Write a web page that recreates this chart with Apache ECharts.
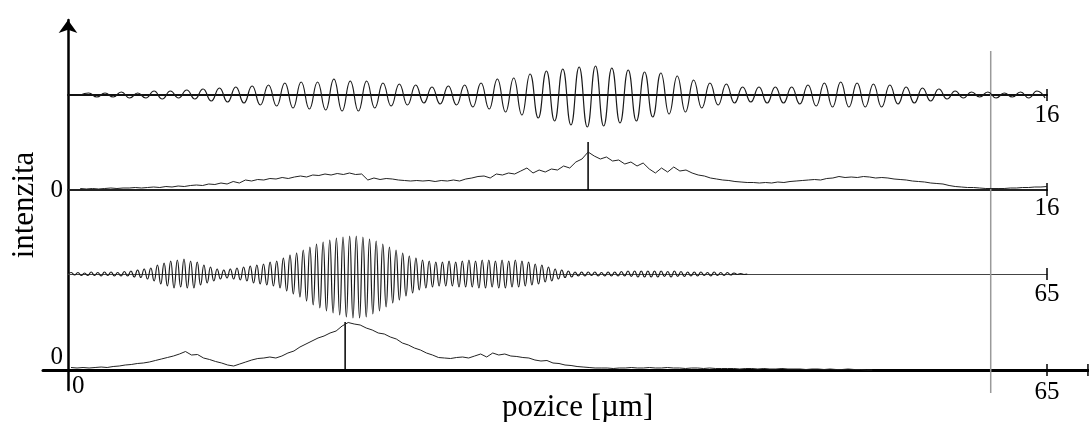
<!DOCTYPE html>
<html><head><meta charset="utf-8">
<script src="https://cdn.jsdelivr.net/npm/echarts@6/dist/echarts.min.js"></script>
<style>html,body{margin:0;padding:0;background:#fff}#c{width:1089px;height:422px}</style>
</head><body><div id="c"></div>
<script>
// ---- data (intensity in arbitrary units, position in µm) ----
// top interferogram: successive extrema (peak, trough, ...) sampled every half fringe
const topWaveX0 = 0.204, topWaveStep = 0.1336;
const topWave = [0,
 2,-2, 2,-2, 3,-3, 2,-3, 4,-4, 4,-3, 5,-4, 6,-6, 7,-7, 8,-8,
 9,-10, 10,-11, 12,-13, 13,-14, 13,-15, 16,-16, 14,-16, 14,-13, 12,-11, 11,-10,
 10,-8, 8,-9, 9,-10, 10,-12, 12,-14, 16,-17, 17,-20, 21,-23, 24,-26, 26,-30,
 28,-32, 29,-31, 27,-28, 25,-26, 23,-22, 22,-19, 19,-17, 15,-13, 12,-10, 11,-8,
 8,-7, 8,-8, 8,-8, 8,-9, 10,-11, 12,-12, 13,-12, 12,-12, 11,-12, 10,-9,
 8,-8, 7,-6, 6,-4, 4,-3, 3,-2, 3,-3, 2,-2, 3,-3, 4,-3];
// top envelope, sampled every 0.1 µm from 0.2 µm
const topEnvX0 = 0.2, topEnvStep = 0.1;
const topEnvelope = [
 1.5,1,1.5,1,1.5,2,1.5,2,2,2.5, 2,2.5,3,2.5,3.5,3,4,3.5,4.5,5,
 4.5,6,5.5,7,6,8.5,7,10,9,10.5, 10,11.5,11,12.5,11.5,13,14,13,15,14.5,
 16,15,16.5,15.5,17,15.5,16,10,12,10.5, 11.5,11,10,9.5,9,9.5,9,9.5,8.5,9.5,
 9,10,9,11,12,13.5,14,12,16,15, 17,16,19,22,17,20,18,21,20,24,
 22,28,31,38,34,31,33,29,30,26, 28,24,27,21,17,22,18,23,19,20,
 17,15,14,12,11,10,9.5,8.5,8,7.5, 7.5,7,7.5,7,8,7.5,8.5,9,9.5,10,
 10.5,10,11.5,12,13.5,12.5,13,12.5,13.5,13, 12,12.5,12,11,10.5,10,9,8.5,8,7,
 6.5,6,4.5,3.5,3,2.5,2.5,2,1.5,1.5, 1.5,1.5,2,2,2.5,2.5,3,3,3.5];
const topMarker = [8.5, 48];
// bottom interferogram: extrema every half fringe
const botWaveX0 = 0, botWaveStep = 0.22;
const botWave = [0,
 1.5,-1, 1.5,-1.5, 1,-1.5, 2,-1.5, 1.5,-2, 2,-1.5, 2,-2, 1.5,-2, 2.5,-2, 3,-3,
 4,-3.5, 5,-5, 6,-7, 9,-10, 11,-12, 13,-14, 14,-13, 15,-14, 13,-14, 12,-11,
 9,-9, 7,-7, 5,-5, 4,-4, 5,-5, 6,-6, 7,-7, 8,-9, 9,-10, 10,-11,
 12,-12, 13,-14, 16,-17, 19,-20, 21,-23, 24,-27, 27,-31, 30,-34, 32,-37, 34,-39,
 36,-41, 37,-43, 38,-44, 38,-44, 37,-43, 35,-40, 33,-37, 30,-33, 27,-29, 24,-26,
 21,-22, 18,-19, 16,-16, 14,-14, 13,-13, 12,-12, 12,-12, 13,-12, 12,-13, 13,-13,
 14,-13, 13,-14, 14,-14, 14,-13, 13,-14, 14,-14, 13,-13, 14,-13, 13,-12, 12,-11,
 10,-10, 9,-8, 7,-7, 5,-5, 4,-3.5, 3,-3, 2,-2, 2,-2, 2,-1.5, 2,-2,
 1.5,-2, 2,-2, 2,-2, 2.5,-2, 3,-2.5, 3,-3, 3,-3, 3,-3, 3,-3, 3,-2.5,
 2.5,-3, 3,-2.5, 2.5,-2.5, 2,-2, 2,-2, 2,-1.5, 1.5,-2, 2,-1.5, 1.5,-1.5, 1.5,-1,
 1,-0.5, 0.5,-0.5, 0];
// bottom envelope, sampled every 0.4 µm from 0.2 µm
const botEnvX0 = 0.2, botEnvStep = 0.4;
const botEnvelope = [
 2.5,2,2.5,2,2.5,3,2.5,3.5,4,5, 5.5,6.5,7,8,9.5,11,12.5,14,16,18.5,
 15,15.5,12,10.5,8.5,7,5,4,6,8, 10,11.5,12,13,12,14,17,19,23,26,
 29,32,34,37,39,44,47.5,46,45,42, 40,37,36,33,31,27,25,22,20,17,
 15,12.5,12,11.5,12.5,13,12,14,16,13, 17,15,16,14,13.5,12.5,12,10,9,9.5,
 7,6.5,5,4.5,3.5,3,2.5,2,2,2, 1.5,2,2,2.5,2,2,2.5,2,2,2.5,
 2,2,1.5,2,2,1.5,2,1.5,1.5,1.5, 1.5,1,1.5,1.5,1,1.5,1,1,1.5,1,
 1,1,0.5,1,1,0.5,1,0.5,0.5,1,0.5,0.5,0,0];
const botMarker = [18.4, 48];
const refLinePos = 15.08;           // grey vertical reference line (top-scale µm)
const topRangeMax = 16, botRangeMax = 65;
const xTitle = 'pozice [µm]', yTitle = 'intenzita';

// ---- helpers ----
const F = 'Liberation Serif';
const sample = (arr, x0, dx) => arr.map((v, i) => [x0 + i * dx, v]);
const lbl = (show, extra) => Object.assign({
  formatter: v => (show.indexOf(v) >= 0 ? String(v) : ''),
  fontFamily: F, fontSize: 25, color: '#000', margin: 6
}, extra || {});
const seg = (xi, yi, pts, color, width, z) => ({
  type: 'line', xAxisIndex: xi, yAxisIndex: yi, data: pts, showSymbol: false,
  clip: false, silent: true, z: z || 3, lineStyle: { color: color, width: width }
});
const noAxis = { axisTick: { show: false }, splitLine: { show: false } };

const chart = echarts.init(document.getElementById('c'), null, { renderer: 'canvas' });
chart.setOption({
  animation: false,
  backgroundColor: '#fff',
  title: { text: xTitle, left: 502, top: 392, padding: 0,
    textStyle: { fontFamily: F, fontSize: 31, fontWeight: 'normal', color: '#000' } },
  grid: [
    { left: 68, width: 979, top: 55, height: 40 },   // top wave (baseline = bottom)
    { left: 68, width: 979, top: 140, height: 50 },  // top envelope
    { left: 68, width: 979, top: 230, height: 44 },  // bottom wave
    { left: 68, width: 979, top: 320, height: 50 },  // bottom envelope
    { left: 43, width: 1046, top: 320, height: 50 }, // main x axis line
    { left: 68, width: 1, top: 20, height: 370 },    // main y axis
    { left: 68, width: 979, top: 51, height: 342 }   // grey reference line
  ],
  xAxis: [
    Object.assign({ gridIndex: 0, type: 'value', min: 0, max: topRangeMax, interval: topRangeMax,
      axisLine: { lineStyle: { color: '#111', width: 2 } }, axisLabel: lbl([topRangeMax], { margin: 8 }) }, noAxis),
    Object.assign({ gridIndex: 1, type: 'value', min: 0, max: topRangeMax, interval: topRangeMax,
      axisLine: { lineStyle: { color: '#222', width: 2 } }, axisLabel: lbl([topRangeMax], { margin: 6 }) }, noAxis),
    Object.assign({ gridIndex: 2, type: 'value', min: 0, max: botRangeMax, interval: botRangeMax,
      axisLine: { lineStyle: { color: '#444', width: 1 } }, axisLabel: lbl([botRangeMax], { margin: 8 }) }, noAxis),
    Object.assign({ gridIndex: 3, type: 'value', min: 0, max: botRangeMax, interval: botRangeMax,
      axisLine: { show: false },
      axisLabel: { fontFamily: F, fontSize: 25, color: '#000', margin: 4, alignMinLabel: 'left',
        formatter: v => (v === 0 ? '{z|0}' : (v === botRangeMax ? '{e|' + v + '}' : '')),
        rich: { z: { fontFamily: F, fontSize: 25, color: '#000', padding: [0, 0, 0, 4] },
                e: { fontFamily: F, fontSize: 25, color: '#000', padding: [6, 0, 0, 0] } } } }, noAxis),
    Object.assign({ gridIndex: 4, type: 'value', min: 0, max: 1,
      axisLine: { show: true, lineStyle: { color: '#000', width: 3 } },
      axisLabel: { show: false } }, noAxis),
    { gridIndex: 5, type: 'value', show: false, min: 0, max: 1 },
    { gridIndex: 6, type: 'value', show: false, min: 0, max: topRangeMax }
  ],
  yAxis: [
    { gridIndex: 0, type: 'value', show: false, min: 0, max: 40 },
    Object.assign({ gridIndex: 1, type: 'value', min: 0, max: 50, interval: 10,
      axisLine: { show: false }, axisLabel: lbl([0], { margin: 5 }) }, noAxis),
    { gridIndex: 2, type: 'value', show: false, min: 0, max: 44 },
    Object.assign({ gridIndex: 3, type: 'value', min: 0, max: 50, interval: 10,
      axisLine: { show: false }, axisLabel: lbl([0], { margin: 5, verticalAlign: 'bottom' }) }, noAxis),
    { gridIndex: 4, type: 'value', show: false, min: 0, max: 1 },
    Object.assign({ gridIndex: 5, type: 'value', min: 0, max: 1,
      axisLine: { show: true, onZero: false, symbol: ['none', 'arrow'], symbolSize: [14, 13],
        lineStyle: { color: '#000', width: 2.5 } },
      axisLabel: { show: false },
      name: yTitle, nameLocation: 'middle', nameGap: 28, nameRotate: 90,
      nameTextStyle: { fontFamily: F, fontSize: 31, color: '#000' } }, noAxis),
    { gridIndex: 6, type: 'value', show: false, min: 0, max: 1 }
  ],
  series: [
    { type: 'line', xAxisIndex: 0, yAxisIndex: 0, data: sample(topWave, topWaveX0, topWaveStep),
      showSymbol: false, smooth: 0.5, smoothMonotone: 'x', clip: false, z: 4,
      lineStyle: { color: '#1a1a1a', width: 1.2 } },
    { type: 'line', xAxisIndex: 1, yAxisIndex: 1, data: sample(topEnvelope, topEnvX0, topEnvStep),
      showSymbol: false, clip: false, z: 4, lineStyle: { color: '#222', width: 1 } },
    seg(1, 1, [[topMarker[0], 0], [topMarker[0], topMarker[1]]], '#000', 1.5),
    { type: 'line', xAxisIndex: 2, yAxisIndex: 2, data: sample(botWave, botWaveX0, botWaveStep),
      showSymbol: false, smooth: 0.5, smoothMonotone: 'x', clip: false, z: 4,
      lineStyle: { color: '#1a1a1a', width: 1.2 } },
    { type: 'line', xAxisIndex: 3, yAxisIndex: 3, data: sample(botEnvelope, botEnvX0, botEnvStep),
      showSymbol: false, clip: false, z: 4, lineStyle: { color: '#222', width: 1 } },
    seg(3, 3, [[botMarker[0], 0], [botMarker[0], botMarker[1]]], '#000', 1.5),
    // end ticks of each trace axis
    seg(0, 0, [[topRangeMax, -6], [topRangeMax, 6]], '#000', 1.5),
    seg(1, 1, [[topRangeMax, -6], [topRangeMax, 7]], '#000', 1.5),
    seg(2, 2, [[botRangeMax, -6], [botRangeMax, 6]], '#000', 1.5),
    seg(3, 3, [[botRangeMax, -6], [botRangeMax, 6]], '#000', 1.5),
    seg(4, 4, [[0.999, -0.12], [0.999, 0.12]], '#000', 1.5),
    // grey reference line
    seg(6, 6, [[refLinePos, 0], [refLinePos, 1]], '#9a9a9a', 1.5, 2)
  ]
});
</script></body></html>
